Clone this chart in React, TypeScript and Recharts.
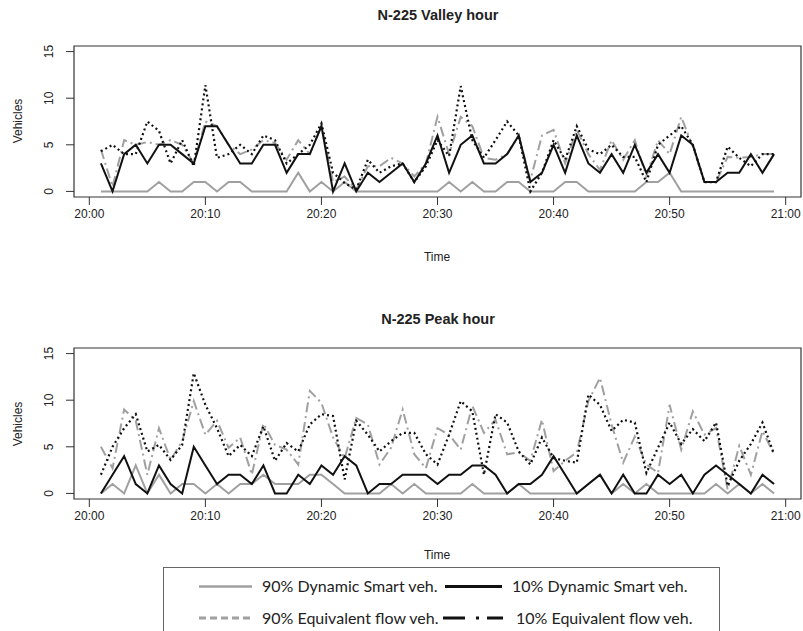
import { LineChart, Line, XAxis, YAxis, ReferenceArea } from "recharts"

// minutes after 20:00
const minutes = [
  1, 2, 3, 4, 5, 6, 7, 8, 9, 10, 11, 12, 13, 14, 15, 16, 17, 18, 19, 20,
  21, 22, 23, 24, 25, 26, 27, 28, 29, 30, 31, 32, 33, 34, 35, 36, 37, 38, 39, 40,
  41, 42, 43, 44, 45, 46, 47, 48, 49, 50, 51, 52, 53, 54, 55, 56, 57, 58, 59,
]
const xTicks = [0, 10, 20, 30, 40, 50, 60]
const xTickLabels = ["20:00", "20:10", "20:20", "20:30", "20:40", "20:50", "21:00"]
const yTicks = [0, 5, 10, 15]

// N-225 Valley hour
const valleyDynamic90 = [
  0, 0, 0, 0, 0, 1, 0, 0, 1, 1, 0, 1, 1, 0, 0, 0, 0, 2, 0, 1,
  0, 1, 0, 0, 0, 0, 0, 0, 0, 0, 1, 0, 1, 0, 0, 1, 1, 0, 0, 0,
  1, 1, 0, 0, 0, 0, 0, 1, 1, 2, 0, 0, 0, 0, 0, 0, 0, 0, 0,
]
const valleyDynamic10 = [
  3, 0, 4, 5, 3, 5, 5, 4, 3, 7, 7, 5, 3, 3, 5, 5, 2, 4, 4, 7,
  0, 3, 0, 2, 1, 2, 3, 1, 3, 6, 2, 5, 6, 3, 3, 4, 6, 1, 2, 5,
  2, 6, 3, 2, 4, 2, 5, 2, 4, 2, 6, 5, 1, 1, 2, 2, 4, 2, 4,
]
const valleyEquiv90 = [
  4.5, 0.5, 5.5, 5, 5.3, 5, 5.5, 5, 3, 7.5, 7, 5, 4, 4.5, 5.5, 5.2, 3.4, 5.5, 4, 7,
  1, 1.6, 0.2, 2.7, 2.7, 3.6, 3, 1.6, 3, 8, 4, 8, 7, 3.6, 3.4, 4, 6, 1.2, 6, 6.6,
  3, 6.6, 4, 2.3, 5.5, 3.4, 5.5, 1.6, 5.5, 4, 8, 4.8, 1, 1, 3.7, 3.6, 3.7, 4, 4,
]
const valleyEquiv10 = [
  4.3, 5, 4, 4, 7.5, 6.5, 3, 5.5, 2.7, 11.4, 3.6, 4, 5, 4, 6, 5.5, 3, 4, 5, 7.3,
  2, 0.9, 0.2, 3.4, 2, 2.7, 3, 1, 2.7, 5.5, 3.8, 11.3, 5.5, 3.6, 5.5, 7.5, 6, 0, 2, 5.5,
  3.4, 7, 4.5, 4, 5, 3.7, 3.7, 1, 5, 6, 7, 5, 1, 1, 4.8, 3.6, 2.7, 4, 4,
]

// N-225 Peak hour
const peakDynamic90 = [
  0, 1, 0, 3, 0, 2, 0, 1, 1, 0, 1, 0, 1, 1, 2, 1, 1, 1, 2, 2,
  1, 0, 0, 0, 0, 1, 0, 1, 0, 0, 0, 0, 1, 0, 0, 0, 1, 0, 0, 0,
  0, 0, 1, 2, 0, 1, 0, 1, 0, 0, 0, 0, 0, 1, 0, 1, 0, 1, 0,
]
const peakDynamic10 = [
  0, 2, 4, 1, 0, 3, 1, 0, 5, 3, 1, 2, 2, 1, 3, 0, 0, 2, 1, 3,
  2, 4, 3, 0, 1, 1, 2, 2, 2, 1, 2, 2, 3, 3, 2, 0, 1, 1, 2, 4,
  2, 0, 1, 2, 0, 2, 0, 0, 2, 1, 2, 0, 2, 3, 2, 1, 0, 2, 1,
]
const peakEquiv90 = [
  5, 2.7, 9, 7.8, 2, 7, 3.6, 5.6, 9.9, 6.3, 7.8, 4.9, 6, 2, 7.5, 5.2, 4.7, 3.1, 11, 9.7,
  6, 3.8, 8.1, 7.4, 3.1, 4.9, 9, 4.2, 2.7, 7, 6.3, 4.7, 9.4, 6.5, 7.9, 4.2, 4.4, 3.5, 7.9, 2.4,
  3.5, 4.4, 9.9, 12.4, 7.4, 3.3, 6.1, 3.1, 2.2, 9.5, 4.7, 8.8, 6.3, 7, 0.4, 5.1, 2, 6.7, 4.2,
]
const peakEquiv10 = [
  2, 5, 7, 8.5, 4.5, 5.2, 3.6, 5.2, 12.9, 9.5, 7, 4, 5.2, 4, 7.2, 3.5, 5.4, 4.5, 7.4, 8.5,
  8.3, 1.5, 7.8, 6.3, 4.5, 5.6, 6.5, 6.5, 4.2, 3.1, 6.3, 9.9, 8.8, 2, 8.5, 7.6, 4.5, 3.1, 6, 3.8,
  3.5, 3.3, 10.6, 9.5, 6.7, 7.9, 7.6, 2.2, 4.9, 7.6, 5.3, 6.9, 5.6, 7.6, 0.8, 3.5, 5.3, 7.6, 4.2,
]

function buildRows(ds90: number[], ds10: number[], ef90: number[], ef10: number[]) {
  return minutes.map((m, i) => ({ m, ds90: ds90[i], ds10: ds10[i], ef90: ef90[i], ef10: ef10[i] }))
}

const valleyRows = buildRows(valleyDynamic90, valleyDynamic10, valleyEquiv90, valleyEquiv10)
const peakRows = buildRows(peakDynamic90, peakDynamic10, peakEquiv90, peakEquiv10)

const GRAY = "#a0a0a0"
const BLACK = "#111"
const TEXT = "#222"
const FONT = '"Liberation Sans", Arial, Helvetica, sans-serif'

function XTick(props: any) {
  const { x, y, payload } = props
  const label = xTickLabels[xTicks.indexOf(payload.value)]
  return (
    <text x={x} y={y} dy="0.71em" textAnchor="middle" fontSize={12} fill={TEXT} fontFamily={FONT}>
      {label}
    </text>
  )
}

function YTick(props: any) {
  const { y, payload } = props
  return (
    <text x={53} y={y} transform={`rotate(-90 53 ${y})`} textAnchor="middle" fontSize={12} fill={TEXT} fontFamily={FONT}>
      {payload.value}
    </text>
  )
}

function Panel({ rows, top }: { rows: any[]; top: number }) {
  return (
    <div style={{ position: "absolute", left: 0, top }}>
      <LineChart width={803} height={290} data={rows} margin={{ top: 46, right: 2, bottom: 33, left: 0 }}>
        <XAxis
          dataKey="m"
          type="number"
          domain={[-1.32, 61.32]}
          ticks={xTicks}
          interval={0}
          tick={<XTick />}
          tickSize={8}
          tickMargin={4}
          axisLine={false}
          tickLine={{ stroke: "#333" }}
          height={60}
          allowDataOverflow
        />
        <YAxis
          type="number"
          domain={[-0.6, 15.6]}
          ticks={yTicks}
          interval={0}
          width={74}
          tick={<YTick />}
          tickSize={8}
          axisLine={false}
          tickLine={{ stroke: "#333" }}
          allowDataOverflow
        />
        <ReferenceArea x1={-1.32} x2={61.32} y1={-0.6} y2={15.6} fill="none" fillOpacity={0} stroke="#333" strokeWidth={1.2} ifOverflow="visible" />
        <Line dataKey="ds90" stroke={GRAY} strokeWidth={2} dot={false} isAnimationActive={false} />
        <Line dataKey="ef90" stroke={GRAY} strokeWidth={2} strokeDasharray="10 4 2 4" dot={false} isAnimationActive={false} />
        <Line dataKey="ds10" stroke={BLACK} strokeWidth={2} dot={false} isAnimationActive={false} />
        <Line dataKey="ef10" stroke={BLACK} strokeWidth={2.2} strokeDasharray="2 3" dot={false} isAnimationActive={false} />
      </LineChart>
    </div>
  )
}

export default function App() {
  return (
    <div style={{ position: "absolute", left: 0, top: 0, width: 803, height: 631, background: "#fff", overflow: "hidden", fontFamily: FONT }}>
      <Panel rows={valleyRows} top={0} />
      <Panel rows={peakRows} top={302} />
      <svg width={803} height={631} style={{ position: "absolute", left: 0, top: 0, pointerEvents: "none" }}>
        <g fontFamily={FONT} fill={TEXT} textAnchor="middle">
          <text x={438} y={20} fontSize={14.5} fontWeight="bold">N-225 Valley hour</text>
          <text x={438} y={324} fontSize={14.5} fontWeight="bold">N-225 Peak hour</text>
          <text x={437} y={261} fontSize={12}>Time</text>
          <text x={437} y={559} fontSize={12}>Time</text>
          <text x={22} y={121} fontSize={12} transform="rotate(-90 22 121)">Vehicles</text>
          <text x={22} y={424} fontSize={12} transform="rotate(-90 22 424)">Vehicles</text>
        </g>
      </svg>
      <div style={{ position: "absolute", left: 163, top: 567, width: 557, height: 80, border: "1.5px solid #666", boxSizing: "border-box", background: "#fff" }}>
        <svg width={557} height={80} style={{ position: "absolute", left: -1.5, top: -1.5 }}>
          <g fontFamily='Lato, "Open Sans", sans-serif' fontSize={16} fill={TEXT}>
            <line x1={36} x2={89} y1={19.5} y2={19.5} stroke={GRAY} strokeWidth={2.5} />
            <text x={99} y={25}>90% Dynamic Smart veh.</text>
            <line x1={282} x2={339} y1={19.5} y2={19.5} stroke={BLACK} strokeWidth={3} />
            <text x={349} y={25}>10% Dynamic Smart veh.</text>
            <line x1={36} x2={89} y1={51} y2={51} stroke={GRAY} strokeWidth={3} strokeDasharray="7 4" />
            <text x={99} y={56.5}>90% Equivalent flow veh.</text>
            <line x1={280} x2={340} y1={51} y2={51} stroke={BLACK} strokeWidth={3} strokeDasharray="22 11 3 8" />
            <text x={353} y={56.5}>10% Equivalent flow veh.</text>
          </g>
        </svg>
      </div>
    </div>
  )
}
